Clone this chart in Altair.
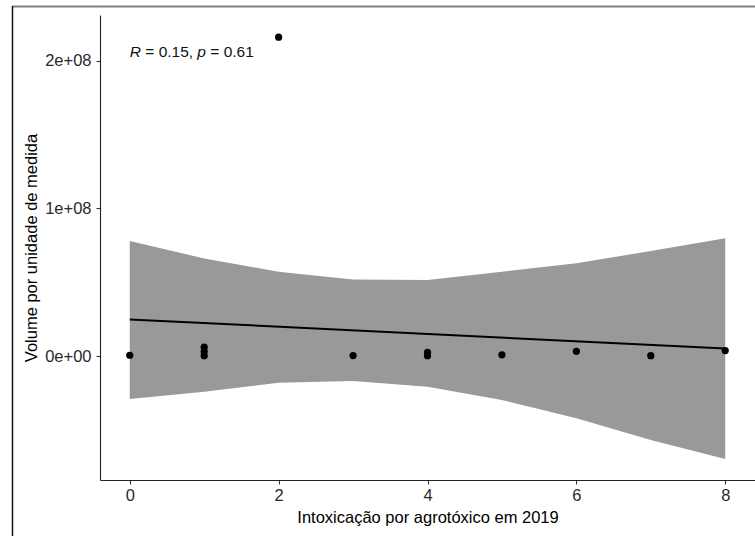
import altair as alt
import pandas as pd

# Observed points
pt_x = [0, 1, 1, 1, 2, 3, 4, 4, 5, 6, 7, 8]
pt_y = [0.5e6, 6.0e6, 3.0e6, 0.2e6, 2.16e8, 0.3e6, 2.5e6, 0.2e6, 0.8e6, 3.2e6, 0.2e6, 3.7e6]

# Regression line
fit_x = [0, 8]
fit_y = [0.248e8, 0.050e8]

# Confidence band edges
band_x = [0, 1, 2, 3, 4, 5, 6, 7, 8]
band_lo = [-0.291e8, -0.242e8, -0.181e8, -0.169e8, -0.208e8, -0.298e8, -0.422e8, -0.569e8, -0.697e8]
band_hi = [0.779e8, 0.661e8, 0.571e8, 0.519e8, 0.515e8, 0.571e8, 0.628e8, 0.711e8, 0.797e8]

x_ticks = [0, 2, 4, 6, 8]
y_ticks = [0, 1e8, 2e8]
y_tick_labels = ["0e+00", "1e+08", "2e+08"]

# annotation pieces: text, italic?
ann_parts = ["R", "= 0.15,", "p", "= 0.61"]
ann_italic = [True, False, True, False]
ann_x = 0
ann_y = 2.06e8

x_title = "Intoxicação por agrotóxico em 2019"
y_title = "Volume por unidade de medida"

pts = pd.DataFrame({"x": pt_x, "y": pt_y})
fit = pd.DataFrame({"x": fit_x, "y": fit_y})
band = pd.DataFrame({"x": band_x, "lo": band_lo, "hi": band_hi})

label_expr = " : ".join(
    f"datum.value == {v} ? '{l}'" for v, l in zip(y_ticks[:-1], y_tick_labels[:-1])
) + f" : '{y_tick_labels[-1]}'"

xs = alt.Scale(domain=[-0.4, 8.4], nice=False, zero=False)
ys = alt.Scale(domain=[-0.84e8, 2.31e8], nice=False, zero=False)

common = dict(
    grid=False, tickSize=4,
    domainColor="#222222", domainWidth=1.1, tickColor="#333333", tickWidth=1.1,
    labelFont="Liberation Sans", labelFontSize=16.5, labelColor="#2a2a2a",
    titleFont="Liberation Sans", titleFontSize=16.5, titleColor="black",
    titleFontWeight="normal",
)

x_axis = alt.Axis(values=x_ticks, title=x_title, labelPadding=3, titlePadding=6,
                  format="d", **common)
y_axis = alt.Axis(values=y_ticks, title=y_title, labelPadding=5, titlePadding=5,
                  labelExpr=label_expr, **common)

band_layer = alt.Chart(band).mark_area(color="#999999", opacity=1).encode(
    x=alt.X("x:Q", scale=xs, axis=x_axis),
    y=alt.Y("lo:Q", scale=ys, axis=y_axis),
    y2="hi:Q",
)

fit_layer = alt.Chart(fit).mark_line(color="black", strokeWidth=2).encode(
    x=alt.X("x:Q", scale=xs),
    y=alt.Y("y:Q", scale=ys),
)

pt_layer = alt.Chart(pts).mark_circle(color="black", size=52, opacity=1).encode(
    x=alt.X("x:Q", scale=xs),
    y=alt.Y("y:Q", scale=ys),
)

# annotation with italic R and p
dx_vals = [0, 15.5, 67.5, 80.5]
ann_layers = []
for part, ital, dx in zip(ann_parts, ann_italic, dx_vals):
    d = pd.DataFrame({"x": [ann_x], "y": [ann_y], "t": [part]})
    ann_layers.append(
        alt.Chart(d).mark_text(
            align="left", baseline="middle", fontSize=15.5,
            font="Liberation Sans", fontStyle="italic" if ital else "normal",
            color="#111111", dx=dx,
        ).encode(x=alt.X("x:Q", scale=xs), y=alt.Y("y:Q", scale=ys), text="t:N")
    )

# frame lines seen at the edges of the reference screenshot
top_line = alt.Chart(pd.DataFrame({"a": [0]})).mark_rule(color="#7f7f7f", strokeWidth=2).encode(
    x=alt.value(-88), x2=alt.value(655), y=alt.value(-8.5)
)
left_line = alt.Chart(pd.DataFrame({"a": [0]})).mark_rule(color="#111111", strokeWidth=1.5).encode(
    x=alt.value(-87.5), y=alt.value(-9), y2=alt.value(521)
)

chart = alt.layer(band_layer, fit_layer, pt_layer, *ann_layers, top_line, left_line).properties(
    width=655, height=465,
    padding={"left": 100, "top": 15, "right": 0, "bottom": 56},
    autosize=alt.AutoSizeParams(type="none"),
    background="white",
).configure_view(stroke=None)

chart.save("out.html", embed_options={"renderer": "svg", "actions": False})
